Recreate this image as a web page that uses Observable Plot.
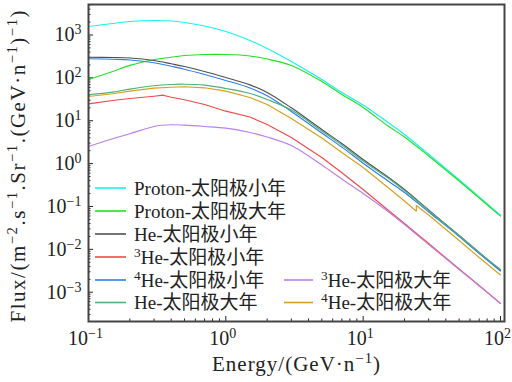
<!DOCTYPE html>
<html>
<head>
<meta charset="utf-8">
<script src="https://cdn.jsdelivr.net/npm/d3@7"></script>
<script src="https://cdn.jsdelivr.net/npm/@observablehq/plot@0.6"></script>
<style>
  body { margin: 0; background: #fff; }
  #chart svg { display: block; }
</style>
</head>
<body>
<div id="chart"></div>
<script>
// ---- data ----
const energy = [0.1, 0.15, 0.2, 0.3, 0.4, 0.5, 0.7, 1, 1.5, 2, 3, 5, 7, 10, 15, 20, 30, 50, 70, 100];
const protonSolarMin = [1578, 1854, 2065, 2178, 2123, 1959, 1622, 1208, 745, 484, 241, 91.6, 45.6, 23.3, 9.35, 4.78, 1.65, 0.42, 0.168, 0.0625];
const protonSolarMax = [91.6, 141, 195, 264, 303, 333, 351, 351, 324, 275, 195, 82.2, 40.9, 20.4, 7.74, 4.18, 1.51, 0.393, 0.158, 0.0595];
const heSolarMin = [303, 299, 291, 254, 213, 184, 141, 102, 68.5, 45.6, 20.0, 6.25, 2.94, 1.25, 0.500, 0.249, 0.083, 0.0210, 0.00843, 0.00321];
const he4SolarMin = [279, 271, 261, 225, 186, 159, 120, 86.9, 58.0, 38.2, 16.5, 5.15, 2.42, 1.02, 0.404, 0.212, 0.0743, 0.0200, 0.0080, 0.00313];
const heSolarMax = [40.3, 46.3, 54.5, 65.3, 70.0, 71.1, 67.5, 56.5, 43.2, 31.3, 17.8, 5.77, 2.72, 1.15, 0.474, 0.236, 0.0805, 0.0210, 0.00843, 0.00339];
const he3SolarMax = [2.51, 3.79, 4.95, 7.35, 8.04, 7.87, 7.35, 6.70, 5.32, 4.18, 2.64, 0.929, 0.438, 0.201, 0.0785, 0.0380, 0.0130, 0.00339, 0.00140, 0.000546];
const energyHe3SolarMin = [0.1, 0.15, 0.2, 0.3, 0.35, 0.4, 0.5, 0.7, 1, 1.5, 2, 3, 5, 7, 10, 15, 20, 30, 50, 70, 100];
const he3SolarMin = [24.8, 29.6, 33.0, 37.3, 39.4, 35.4, 30.8, 23.9, 16.7, 12.2, 8.17, 4.06, 1.39, 0.611, 0.249, 0.0851, 0.0401, 0.0137, 0.00348, 0.00144, 0.000546];
const energyHe4SolarMax = [0.1, 0.15, 0.2, 0.3, 0.4, 0.5, 0.7, 1, 1.5, 2, 3, 5, 7, 10, 15, 20, 24.4, 24.4, 30, 50, 70, 100];
const he4SolarMax = [36.7, 42.5, 48.9, 57.4, 60.5, 61.9, 58.6, 48.9, 34.8, 23.9, 11.3, 3.95, 1.82, 0.811, 0.284, 0.134, 0.0776, 0.105, 0.0632, 0.0161, 0.00646, 0.00252];

const seriesNames = ["Proton-太阳极小年", "Proton-太阳极大年", "He-太阳极小年", "³He-太阳极小年",
                     "⁴He-太阳极小年", "He-太阳极大年", "³He-太阳极大年", "⁴He-太阳极大年"];
const seriesColors = ["#14F2F2", "#22E022", "#505050", "#F04848", "#2F7DEB", "#4DAF7C", "#B97FEA", "#D4A020"];
const seriesEnergy = [energy, energy, energy, energyHe3SolarMin, energy, energy, energy, energyHe4SolarMax];
const seriesFlux = [protonSolarMin, protonSolarMax, heSolarMin, he3SolarMin, he4SolarMin, heSolarMax, he3SolarMax, he4SolarMax];
const seriesCurve = ["catmull-rom", "catmull-rom", "catmull-rom", "linear", "catmull-rom", "catmull-rom", "catmull-rom", "linear"];

const xTickExponents = [-1, 0, 1, 2];
const yTickExponents = [-3, -2, -1, 0, 1, 2, 3];
const minorMultipliers = [2, 3, 4, 5, 6, 7, 8, 9];
const xLabelText = "Energy/(GeV·n⁻¹)";
const yLabelText = "Flux/(m⁻².s⁻¹.Sr⁻¹.(GeV·n⁻¹)⁻¹)";

// ---- scales / ticks ----
const xDomain = [0.1, 107];
const yDomain = [2.075e-4, 5140];
const inDom = (v, dom) => v >= dom[0] * 0.9999 && v <= dom[1] * 1.0001;
const majorX = xTickExponents.map(e => 10 ** e);
const majorY = yTickExponents.map(e => 10 ** e);
const minorX = [], minorY = [];
for (let e = -2; e <= 3; e++) for (const m of minorMultipliers) {
  const v = m * 10 ** e;
  if (inDom(v, xDomain)) minorX.push(v);
}
for (let e = -5; e <= 4; e++) for (const m of minorMultipliers) {
  const v = m * 10 ** e;
  if (inDom(v, yDomain)) minorY.push(v);
}
const expFormat = d => "10^" + Math.round(Math.log10(d));

const serif = "'Liberation Serif', 'Times New Roman', 'Noto Sans CJK SC', serif";
const legendFont = "'Liberation Serif', 'Noto Sans CJK SC', serif";

const lineMarks = seriesNames.map((name, k) =>
  Plot.line(seriesEnergy[k].map((E, i) => ({E, F: seriesFlux[k][i]})), {
    x: "E", y: "F", stroke: seriesColors[k], strokeWidth: 1.15, curve: seriesCurve[k]
  })
);

const chart = Plot.plot({
  width: 512,
  height: 382,
  marginLeft: 88,
  marginRight: 8,
  marginTop: 4,
  marginBottom: 61,
  style: {fontFamily: serif, background: "white", color: "#222", overflow: "visible"},
  x: {type: "log", domain: xDomain},
  y: {type: "log", domain: yDomain},
  marks: [
    Plot.axisX(minorX, {tickSize: -2.5, tickFormat: () => "", label: null}),
    Plot.axisY(minorY, {tickSize: -2.5, tickFormat: () => "", label: null}),
    Plot.axisX(majorX, {tickSize: -5, tickPadding: 14, tickFormat: expFormat, fontSize: 20, label: null}),
    Plot.axisY(majorY, {tickSize: -5, tickPadding: 12, tickFormat: expFormat, fontSize: 20, label: null}),
    ...lineMarks,
    Plot.frame({stroke: "#444", strokeWidth: 2})
  ]
});
document.getElementById("chart").append(chart);

// ---- superscript tick labels ----
const svg = d3.select(chart);
svg.selectAll("text").each(function () {
  const t = this.textContent;
  const m = t.match(/^10\^(-?\d+)$/);
  if (!m) return;
  const sel = d3.select(this);
  sel.text("10");
  sel.append("tspan").attr("dy", "-7").attr("font-size", "14px").text(m[1].replace("-", "−"));
});
svg.selectAll("g[aria-label='x-axis tick label'] text").attr("dx", -3);

// helper: write text with superscripts (⁻ ⁰-⁹ runs become raised tspans)
const supMap = {"⁻": "−", "⁰": "0", "¹": "1", "²": "2", "³": "3", "⁴": "4", "⁵": "5", "⁶": "6", "⁷": "7", "⁸": "8", "⁹": "9"};
function writeRich(textSel, str, size) {
  const runs = [];
  for (const ch of str) {
    const sup = ch in supMap;
    const c = sup ? supMap[ch] : ch;
    if (runs.length && runs[runs.length - 1].sup === sup) runs[runs.length - 1].s += c;
    else runs.push({sup, s: c});
  }
  const shift = Math.round(size * 0.36);
  let raised = false;
  for (const r of runs) {
    const ts = textSel.append("tspan").text(r.s);
    if (r.sup) { ts.attr("font-size", (size * 0.7).toFixed(1) + "px"); if (!raised) ts.attr("dy", -shift); raised = true; }
    else { if (raised) ts.attr("dy", shift); raised = false; }
  }
}

// ---- axis titles ----
const xt = svg.append("text").attr("x", 296).attr("y", 371).attr("text-anchor", "middle")
  .attr("font-family", serif).attr("font-size", 21).attr("fill", "#222");
writeRich(xt, xLabelText, 21);
xt.attr("textLength", 168).attr("lengthAdjust", "spacing");

const yt = svg.append("text").attr("transform", "translate(25,166.5) rotate(-90)").attr("text-anchor", "middle")
  .attr("font-family", serif).attr("font-size", 21).attr("fill", "#222");
writeRich(yt, yLabelText, 21);
yt.attr("textLength", 312).attr("lengthAdjust", "spacing");

// ---- legend ----
const legendRowsY = [188, 211, 234, 257, 280, 302.5];
const legendCols = [{x1: 95, x2: 126, tx: 134}, {x1: 284, x2: 313, tx: 321}];
const legend = svg.append("g").attr("font-family", legendFont).attr("font-size", 19)
  .attr("fill", "#222").attr("text-anchor", "start");
seriesNames.forEach((name, k) => {
  const col = k < 6 ? legendCols[0] : legendCols[1];
  const y = k < 6 ? legendRowsY[k] : legendRowsY[k - 2];
  legend.append("line").attr("x1", col.x1).attr("x2", col.x2).attr("y1", y).attr("y2", y)
    .attr("stroke", seriesColors[k]).attr("stroke-width", 1.6);
  const t = legend.append("text").attr("x", col.tx).attr("y", y + 6.5).attr("text-anchor", "start");
  writeRich(t, name, 19);
});
</script>
</body>
</html>
